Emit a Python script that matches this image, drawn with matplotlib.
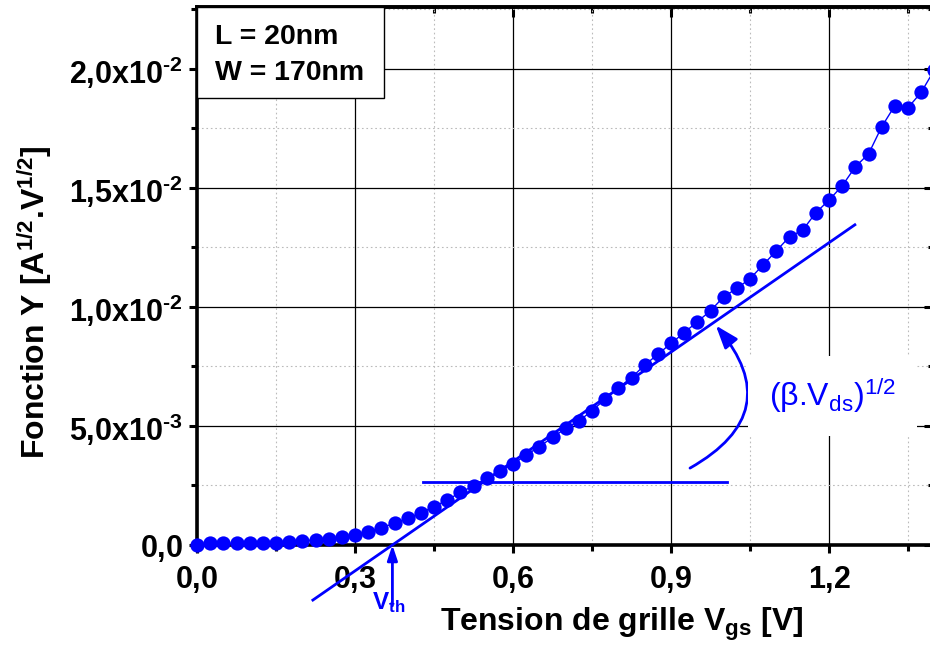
import matplotlib
matplotlib.use("Agg")
import matplotlib.pyplot as plt
from matplotlib.ticker import MultipleLocator, FuncFormatter
from matplotlib.patches import FancyArrowPatch, Rectangle

plt.rcParams['font.family'] = ['Liberation Sans', 'DejaVu Sans']
plt.rcParams['mathtext.fontset'] = 'custom'
plt.rcParams['mathtext.rm'] = 'Liberation Sans'
plt.rcParams['mathtext.it'] = 'Liberation Sans:italic'
plt.rcParams['mathtext.bf'] = 'Liberation Sans:bold'

# ---------------- data ----------------
vgs = [0.000, 0.025, 0.050, 0.075, 0.100, 0.125, 0.150, 0.175, 0.200, 0.225,
       0.250, 0.275, 0.300, 0.325, 0.350, 0.375, 0.400, 0.425, 0.450, 0.475,
       0.500, 0.525, 0.550, 0.575, 0.600, 0.625, 0.650, 0.675, 0.700, 0.725,
       0.750, 0.775, 0.800, 0.825, 0.850, 0.875, 0.900, 0.925, 0.950, 0.975,
       1.000, 1.025, 1.050, 1.075, 1.100, 1.125, 1.150, 1.175, 1.200, 1.225,
       1.250, 1.275, 1.300, 1.325, 1.350, 1.375, 1.400]
y_func = [0.00000, 0.00007, 0.00007, 0.00007, 0.00007, 0.00008, 0.00010, 0.00014, 0.00018, 0.00021,
          0.00026, 0.00032, 0.00042, 0.00056, 0.00073, 0.00091, 0.00112, 0.00135, 0.00161, 0.00189,
          0.00221, 0.00248, 0.00280, 0.00311, 0.00340, 0.00378, 0.00413, 0.00452, 0.00490, 0.00521,
          0.00564, 0.00613, 0.00661, 0.00703, 0.00756, 0.00801, 0.00847, 0.00892, 0.00938, 0.00984,
          0.01043, 0.01078, 0.01119, 0.01177, 0.01236, 0.01295, 0.01323, 0.01396, 0.01449, 0.01509,
          0.01589, 0.01643, 0.01757, 0.01846, 0.01837, 0.01902, 0.01996]

# tangent (linear extrapolation) line
vth = 0.371
slope = 0.01532
tangent_x = [0.220, 1.249]
# horizontal reference line
href_y = 0.00265
href_x = [0.429, 1.006]

x_ticks = [0.0, 0.3, 0.6, 0.9, 1.2]
HY = '\u2010'
y_tick_labels = {0.0: r'$\mathbf{0{,}0}$',
                 0.005: r'$\mathbf{5{,}0x10^{%s3}}$' % HY,
                 0.010: r'$\mathbf{1{,}0x10^{%s2}}$' % HY,
                 0.015: r'$\mathbf{1{,}5x10^{%s2}}$' % HY,
                 0.020: r'$\mathbf{2{,}0x10^{%s2}}$' % HY}

BLUE = '#0000ff'

# ---------------- figure ----------------
fig = plt.figure(figsize=(9.30, 6.49), dpi=100)
AX_W = 934.4 - 197
ax = fig.add_axes([197 / 930, 1 - 545 / 649, AX_W / 930, (545 - 7) / 649])
ax.set_xlim(0.0, 1.4)
ax.set_ylim(0.0, 0.0226)

# grid
ax.xaxis.set_major_locator(MultipleLocator(0.3))
ax.xaxis.set_minor_locator(MultipleLocator(0.15))
ax.yaxis.set_major_locator(MultipleLocator(0.005))
ax.yaxis.set_minor_locator(MultipleLocator(0.0025))
ax.grid(which='major', color='black', lw=0.9, ls='-', zorder=0)
ax.grid(which='minor', color='#bbbbbb', lw=0.8, ls=(0, (1.5, 2.5)), zorder=0)
ax.set_axisbelow(True)

# spines
for s in ['left', 'bottom', 'top', 'right']:
    ax.spines[s].set_linewidth(2.6)

# ticks
ax.tick_params(axis='both', which='both', direction='out', width=2.2,
               top=False, right=False)
ax.tick_params(axis='both', which='major', length=6)
ax.tick_params(axis='both', which='minor', length=4.5)
ax.tick_params(axis='x', which='major', pad=8, labelsize=22)
ax.tick_params(axis='y', which='major', pad=4, labelsize=22)

# tick marks on top and right pointing inward
axt = ax.secondary_xaxis('top')
axt.xaxis.set_major_locator(MultipleLocator(0.3))
axt.xaxis.set_minor_locator(MultipleLocator(0.15))
axt.tick_params(which='both', direction='in', width=2.2, labeltop=False)
axt.tick_params(which='major', length=7)
axt.tick_params(which='minor', length=4.5)
axt.spines['top'].set_linewidth(2.6)
axr = ax.secondary_yaxis('right')
axr.yaxis.set_major_locator(MultipleLocator(0.005))
axr.yaxis.set_minor_locator(MultipleLocator(0.0025))
axr.tick_params(which='both', direction='in', width=2.2, labelright=False)
axr.tick_params(which='major', length=7)
axr.tick_params(which='minor', length=4.5)

ax.xaxis.set_major_formatter(FuncFormatter(
    lambda v, p: r'$\mathbf{%s}$' % (('%.1f' % v).replace('.', '{,}'))))
ax.set_xticks(x_ticks)
ax.yaxis.set_major_formatter(FuncFormatter(
    lambda v, p: y_tick_labels.get(round(v, 4), '')))

# labels
ax.set_xlabel(r'$\mathbf{Tension\ de\ grille\ V_{gs}\ [V]}$', fontsize=23)
ax.set_ylabel(r'$\mathbf{Fonction\ Y\ [A^{1/2}}$.$\mathbf{V^{1/2}]}$', fontsize=23)
ax.xaxis.set_label_coords((622 - 197) / AX_W, -(624 - 545) / 538, transform=ax.transAxes)
ax.xaxis.label.set_va('center')
ax.yaxis.set_label_coords(-(197 - 35) / AX_W, (545 - 302) / 538, transform=ax.transAxes)
ax.yaxis.label.set_va('center')
ax.yaxis.label.set_fontweight('bold')

# tangent lines
tan_y = [slope * (x - vth) for x in tangent_x]
ax.plot(tangent_x, tan_y, color=BLUE, lw=2.0, zorder=3, clip_on=False)
ax.plot(href_x, [href_y, href_y], color=BLUE, lw=2.0, zorder=3)

# data
ax.plot(vgs, y_func, '-o', color=BLUE, lw=1.0, markersize=10.3,
        markeredgewidth=0, zorder=4, clip_on=False)

# V_th arrow
ax.annotate('', xy=(vth, 0.0), xytext=(vth, -0.00255),
            arrowprops=dict(arrowstyle='-|>,head_length=0.9,head_width=0.3',
                            color=BLUE, lw=2.0, shrinkA=0, shrinkB=0),
            annotation_clip=False, zorder=5)
ax.text(vth - 0.008, -0.00243, r'$\mathbf{V_{th}}$', color=BLUE, fontsize=17.5,
        ha='center', va='center', zorder=6)

# curved arrow for slope
arr = FancyArrowPatch((0.936, 0.00323), (0.985, 0.00922),
                      connectionstyle='arc3,rad=0.6',
                      arrowstyle='-|>,head_length=0.7,head_width=0.25',
                      mutation_scale=20, color=BLUE, lw=2.0, zorder=5,
                      shrinkA=0, shrinkB=0)
ax.add_patch(arr)
ax.text(1.206, 0.00626, r'$(\mathrm{\beta}$.$\mathrm{V_{ds}})^{1/2}$', color=BLUE, fontsize=23,
        ha='center', va='center', zorder=6,
        bbox=dict(boxstyle='square,pad=0.65', fc='white', ec='none'))

# info box in top-left corner
box = Rectangle((0, (545 - 98) / 538), (384 - 197) / AX_W, 1 - (545 - 98) / 538,
                transform=ax.transAxes, fc='white', ec='black', lw=1.0, zorder=7)
ax.add_patch(box)
ax.text((215 - 197) / AX_W, (545 - 37) / 538, 'L = 20nm', fontsize=20.5,
        fontweight='bold', ha='left', va='center', transform=ax.transAxes, zorder=8)
ax.text((215 - 197) / AX_W, (545 - 73) / 538, 'W = 170nm', fontsize=20.5,
        fontweight='bold', ha='left', va='center', transform=ax.transAxes, zorder=8)

fig.savefig('out.png', dpi=100)
